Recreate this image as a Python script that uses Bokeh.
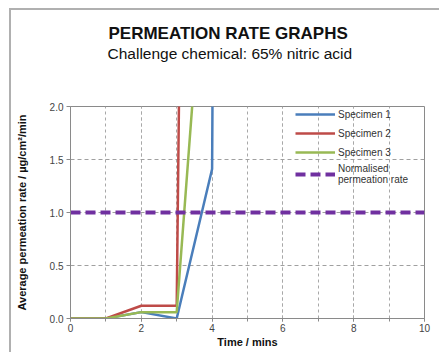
from bokeh.plotting import figure
from bokeh.models import (Legend, LegendItem, Title, FixedTicker, PrintfTickFormatter,
                          Range1d, InlineStyleSheet)
from bokeh.embed import file_html
from bokeh.resources import INLINE

# ---- data ----
spec1_t = [0, 1, 2, 3, 4, 5]
spec1_v = [0, 0, 0.06, 0, 1.41, 60]
spec2_t = [0, 1, 2, 3, 4]
spec2_v = [0, 0, 0.12, 0.12, 30]
spec3_t = [0, 1, 2, 3, 4]
spec3_v = [0, 0, 0.06, 0.06, 4.5]
norm_t = [0, 10]
norm_v = [1.0, 1.0]
x_ticks = [0, 2, 4, 6, 8, 10]
x_minor = list(range(0, 11))
y_ticks = [0.0, 0.5, 1.0, 1.5, 2.0]

FONT = "Liberation Sans"

p = figure(frame_width=354, frame_height=212, output_backend="svg", toolbar_location=None,
           x_range=Range1d(0, 10), y_range=Range1d(0, 2),
           min_border_left=70, min_border_right=15, min_border_top=106, min_border_bottom=34)
p.background_fill_color = "white"
p.border_fill_color = "white"
p.outline_line_color = "#8a8a8a"
p.outline_line_width = 1

# axes
for ax in (p.xaxis[0], p.yaxis[0]):
    ax.axis_line_color = "#8a8a8a"
    ax.major_tick_line_color = "#8a8a8a"
    ax.minor_tick_line_color = "#8a8a8a"
    ax.major_label_text_font = FONT
    ax.major_label_text_font_size = "10px"
    ax.major_label_text_color = "#444444"
    ax.axis_label_text_font = FONT
    ax.axis_label_text_font_size = "11px"
    ax.axis_label_text_font_style = "bold"
    ax.axis_label_text_color = "#111111"

p.xaxis.ticker = FixedTicker(ticks=x_ticks, minor_ticks=x_minor)
p.xaxis.major_tick_out = 3
p.xaxis.major_tick_in = 0
p.xaxis.minor_tick_in = 0
p.xaxis.minor_tick_out = 3
p.xaxis.major_label_standoff = 2
p.xaxis.axis_label = "Time / mins"
p.xaxis.axis_label_standoff = 1

p.yaxis.ticker = FixedTicker(ticks=y_ticks)
p.yaxis.formatter = PrintfTickFormatter(format="%.1f")
p.yaxis.major_tick_out = 4
p.yaxis.major_tick_in = 0
p.yaxis.minor_tick_out = 0
p.yaxis.major_label_standoff = 3
p.yaxis.axis_label = "Average permeation rate / µg/cm²/min"
p.yaxis.axis_label_standoff = 19

# grid
p.xgrid.grid_line_color = "#a8a8a8"
p.xgrid.grid_line_dash = "3 3"
p.xgrid.minor_grid_line_color = "#a8a8a8"
p.xgrid.minor_grid_line_dash = "3 3"
p.ygrid.grid_line_color = "#a0a0a0"
p.ygrid.grid_line_dash = "4 3"

# lines
r1 = p.line(spec1_t, spec1_v, line_color="#4a7ebb", line_width=2.5)
r2 = p.line(spec2_t, spec2_v, line_color="#be4b48", line_width=2.5)
r3 = p.line(spec3_t, spec3_v, line_color="#98b954", line_width=2.5)
r4 = p.line(norm_t, norm_v, line_color="#7030a0", line_width=4, line_dash="10 5")

legend = Legend(items=[
    LegendItem(label="Specimen 1", renderers=[r1]),
    LegendItem(label="Specimen 2", renderers=[r2]),
    LegendItem(label="Specimen 3", renderers=[r3]),
    LegendItem(label="Normalised\npermeation rate", renderers=[r4]),
], location=(225, 133))
legend.background_fill_alpha = 0
legend.border_line_color = None
legend.padding = 0
legend.margin = 0
legend.spacing = 3
legend.glyph_width = 40
legend.glyph_height = 16
legend.label_standoff = 3
legend.label_text_font = FONT
legend.label_text_font_size = "10px"
legend.label_text_color = "#333333"
legend.label_height = 12
p.add_layout(legend)

# titles: a blank spacer nearest the frame, then the subtitle, then the main title
p.add_layout(Title(text=" ", text_font=FONT, text_font_size="10px",
                   align="left", standoff=32), "above")
p.add_layout(Title(text="Challenge chemical: 65% nitric acid", text_font=FONT,
                   text_font_size="15.5px", text_font_style="normal", text_color="#111111",
                   align="left", offset=37, standoff=0), "above")
p.add_layout(Title(text="PERMEATION RATE GRAPHS", text_font=FONT,
                   text_font_size="17px", text_font_style="bold", text_color="#111111",
                   align="left", offset=38, standoff=0), "above")

# outer chart border (decorative frame of the original chart area)
p.stylesheets = [InlineStyleSheet(css=":host { position: relative; } "
                                      ":host::after { content: ''; position: absolute; left: 9px; top: 8px; "
                                      "width: 500px; height: 400px; border: 2px solid #b0b0b0; "
                                      "pointer-events: none; }")]

open("out.html", "w").write(file_html(p, INLINE))
